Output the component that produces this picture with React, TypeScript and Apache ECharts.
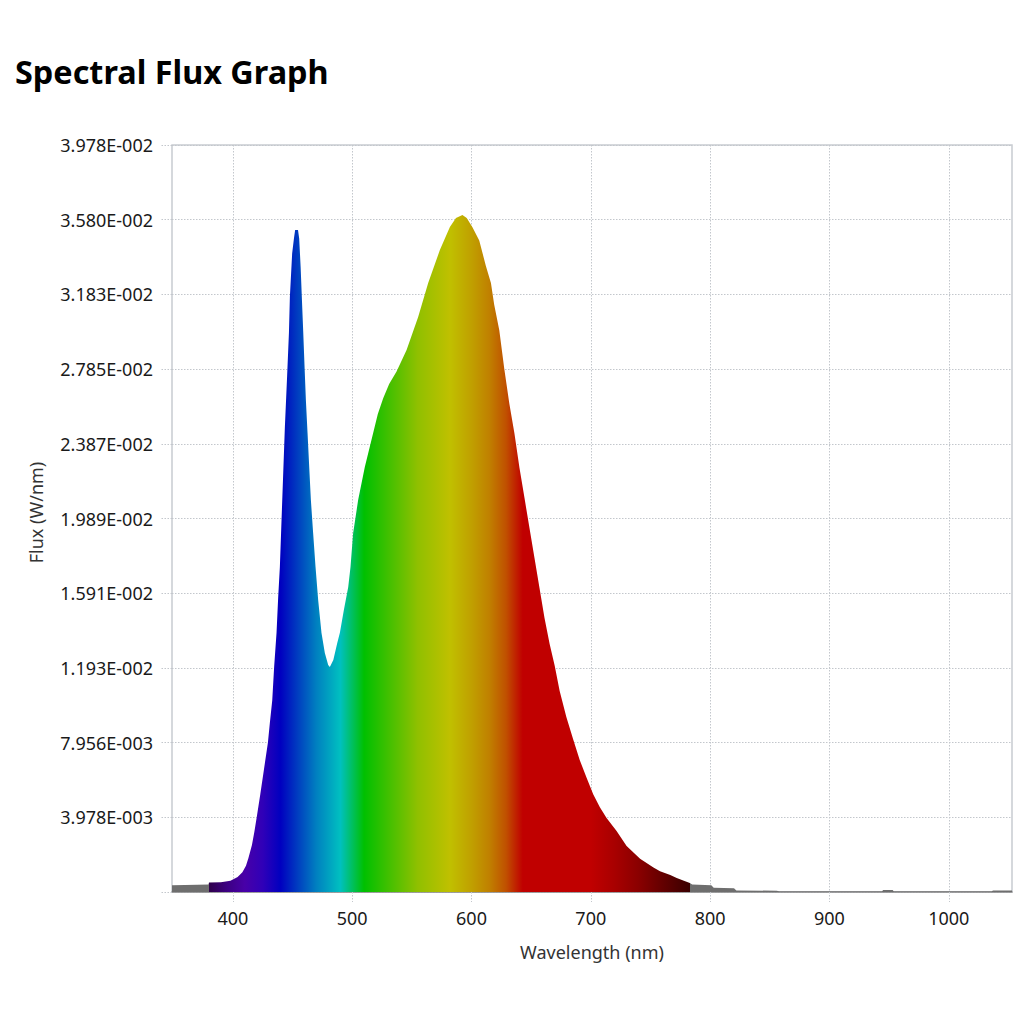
import React, { useEffect, useRef } from "react";
import * as echarts from "echarts";

const chartTitle = "Spectral Flux Graph";
const xAxisName = "Wavelength (nm)";
const yAxisName = "Flux (W/nm)";

const xMin = 349;
const xMax = 1053;
const xTickValues = [400, 500, 600, 700, 800, 900, 1000];
const yMax = 0.039782;
const yStep = 0.0039782;

const wavelengths = [
  349, 360, 370, 379.5, 380, 390, 398, 404, 408, 411, 413, 416, 418, 420, 423, 426,
  429.4, 431, 433, 434.6, 436.6, 438, 439.4, 440.8, 443.6, 445.5, 447, 447.8, 449.7,
  451.2, 452.2, 454.6, 455.6, 456.8, 457.9, 459, 460.1, 461.2, 462.6, 464, 465.4,
  467.3, 469.3, 471.5, 474.3, 477.1, 479.9, 481.3, 484.2, 487.5, 489.7, 493, 496.7,
  498.6, 500.8, 505, 510.6, 517.6, 521.5, 526, 531, 537.2, 545.6, 555.3, 563.7, 573.5,
  581.9, 587, 592.4, 596, 600.8, 606.5, 612, 616.3, 619, 623.3, 627.5, 631.7, 636,
  640.2, 644.4, 648.6, 652.8, 657, 661.2, 665.5, 669.7, 673.9, 679.5, 685, 690.7,
  696.3, 702, 707.6, 713.2, 721.6, 730, 741.3, 752.5, 758, 766.6, 772, 778, 783, 785,
  801, 803, 820, 822, 856, 858, 944, 945, 953, 954, 1036, 1037, 1053,
];

const flux = [
  0.00036, 0.00037, 0.00039, 0.0004, 0.0005, 0.00052, 0.0006, 0.0008, 0.00105, 0.0014,
  0.0018, 0.0025, 0.0032, 0.00398, 0.0052, 0.0065, 0.00796, 0.009, 0.0102, 0.01198,
  0.01379, 0.01571, 0.01731, 0.0198, 0.02476, 0.0275, 0.02977, 0.0317, 0.034, 0.0348,
  0.03525, 0.03525, 0.0348, 0.0333, 0.03153, 0.0298, 0.02796, 0.0262, 0.02444, 0.02263,
  0.02087, 0.0191, 0.01731, 0.01555, 0.01379, 0.01273, 0.01209, 0.01198, 0.01235,
  0.01326, 0.0138, 0.015, 0.01624, 0.01731, 0.0191, 0.02087, 0.02263, 0.02444, 0.02545,
  0.0263, 0.02705, 0.02772, 0.02886, 0.03062, 0.03243, 0.03419, 0.03541, 0.0359,
  0.03605, 0.0359, 0.0354, 0.0347, 0.03335, 0.03243, 0.03129, 0.02991, 0.02785, 0.02602,
  0.02442, 0.02259, 0.02099, 0.01938, 0.01779, 0.01619, 0.01459, 0.01321, 0.01206,
  0.0107, 0.00932, 0.00817, 0.00703, 0.00611, 0.0052, 0.00451, 0.00394, 0.00325,
  0.00245, 0.00177, 0.00131, 0.0011, 0.0009, 0.00075, 0.0006, 0.00048, 0.0004, 0.00036,
  0.00022, 0.0002, 0.00008, 0.00007, 0.00003, 0.00003, 0.0001, 0.0001, 0.00003, 0.00003,
  0.00008, 0.00008,
];

// wavelength -> fill colour of the spectrum
const spectrumWavelengths = [
  349, 380, 380.01, 395, 410, 425, 440, 455, 470, 490, 510, 530, 555, 582, 600, 615, 629,
  643, 700, 720, 740, 760, 783, 783.01, 1053,
];
const spectrumColors = [
  "#6e6e6e", "#6e6e6e", "#2e004a", "#3c0082", "#4800a8", "#3000b8", "#0000c0", "#0040c0",
  "#0080c0", "#00c0c0", "#00c000", "#40c000", "#90c000", "#c0c000", "#c0a000", "#c08000",
  "#c05000", "#c00000", "#c00000", "#a80000", "#8a0000", "#640000", "#3a0000", "#6e6e6e",
  "#6e6e6e",
];

const FONT = "Noto Sans";

function formatFlux(v: number): string {
  if (Math.abs(v) < 1e-12) return "";
  const [m, e] = v.toExponential(3).split("e");
  const n = parseInt(e, 10);
  return `${m}E${n < 0 ? "-" : "+"}${String(Math.abs(n)).padStart(3, "0")}`;
}

const dotted = { color: "#c3c7cc", width: 1, type: [1.5, 1.5] as number[] };

export default function App() {
  const ref = useRef<HTMLDivElement>(null);

  useEffect(() => {
    document.body.style.margin = "0";
    document.body.style.overflow = "hidden";
    if (!ref.current) return;
    const chart = echarts.init(ref.current, undefined, { renderer: "svg" });

    const seriesData = wavelengths.map((w, i) => [w, flux[i]]);
    const span = xMax - xMin;
    const stops = spectrumWavelengths.map((w, i) => ({
      offset: Math.min(1, Math.max(0, (w - xMin) / span)),
      color: spectrumColors[i],
    }));

    chart.setOption({
      animation: false,
      backgroundColor: "#ffffff",
      textStyle: { fontFamily: FONT },
      title: {
        text: chartTitle,
        left: 15,
        top: 55,
        padding: 0,
        textStyle: { fontFamily: FONT, fontWeight: "bold", fontSize: 32.4, color: "#000000" },
      },
      grid: {
        left: 172,
        right: 12,
        top: 145,
        bottom: 132,
        show: true,
        borderColor: "#c8ccd1",
        borderWidth: 1.5,
        backgroundColor: "transparent",
      },
      xAxis: {
        type: "value",
        min: xMin,
        max: xMax,
        name: xAxisName,
        nameLocation: "middle",
        nameGap: 51,
        nameTextStyle: { fontFamily: FONT, fontSize: 18, color: "#333333" },
        axisLine: { show: true, lineStyle: { color: "#8c8c8c", width: 1.5 } },
        axisTick: { show: true, length: 10, customValues: xTickValues, lineStyle: dotted },
        axisLabel: {
          customValues: xTickValues,
          margin: 17,
          fontFamily: FONT,
          fontSize: 18,
          color: "#1a1a1a",
          formatter: (v: number) => String(v),
        },
        splitLine: { show: true, lineStyle: dotted },
      },
      yAxis: {
        type: "value",
        min: 0,
        max: yMax,
        interval: yStep,
        name: yAxisName,
        nameLocation: "middle",
        nameGap: 127,
        nameTextStyle: { fontFamily: FONT, fontSize: 18, color: "#333333", padding: [0, 0, 0, 12] },
        axisLine: { show: false },
        axisTick: { show: true, length: 12, lineStyle: dotted },
        axisLabel: {
          margin: 19,
          fontFamily: FONT,
          fontSize: 18,
          color: "#1a1a1a",
          formatter: formatFlux,
        },
        splitLine: { show: true, lineStyle: dotted },
      },
      series: [
        {
          type: "line",
          data: seriesData,
          symbol: "none",
          showSymbol: false,
          lineStyle: { width: 0, opacity: 0 },
          areaStyle: {
            opacity: 1,
            origin: "start",
            color: new echarts.graphic.LinearGradient(0, 0, 1, 0, stops),
          },
          silent: true,
        },
      ],
    });

    return () => chart.dispose();
  }, []);

  return <div ref={ref} style={{ width: 1024, height: 1024 }} />;
}
